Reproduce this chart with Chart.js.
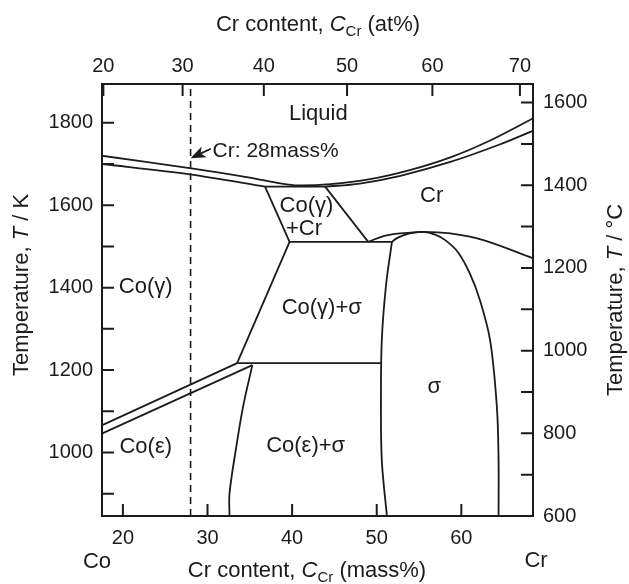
<!DOCTYPE html>
<html>
<head>
<meta charset="utf-8">
<title>Co-Cr phase diagram</title>
<script src="https://cdn.jsdelivr.net/npm/chart.js@4.4.1/dist/chart.umd.min.js"></script>
<style>
  html, body { margin: 0; padding: 0; background: #fff; }
</style>
</head>
<body>
<canvas id="phase-chart" width="629" height="584"></canvas>
<script>
// tick values
const massTicks = [20, 30, 40, 50, 60];
const atomTicks = [20, 30, 40, 50, 60, 70];
const kelvinTicks = [900, 1000, 1100, 1200, 1300, 1400, 1500, 1600, 1700, 1800];
const celsiusTicks = [600, 700, 800, 900, 1000, 1100, 1200, 1300, 1400, 1500, 1600];

// phase boundaries, [Cr mass%, T in K]
const liquidus = [[17.5, 1720], [27.9, 1690], [35.0, 1667], [38.6, 1653], [40.7, 1648], [44.5, 1651],
  [49.2, 1663], [53.9, 1685], [58.7, 1716], [63.4, 1757], [68.5, 1811]];
const solidusGamma = [[17.5, 1700], [27.9, 1675], [36.8, 1645]];
const eutecticLine = [[36.8, 1645], [43.9, 1645]];
const solidusCr = [[43.9, 1645], [48.0, 1652.5], [52.8, 1671.4], [58.7, 1704.9], [64.6, 1747.8], [68.5, 1781]];
const gammaCrLeft = [[36.8, 1645], [39.7, 1511]];
const gammaCrRight = [[43.9, 1645], [49.0, 1511]];
const sigmaFormLine = [[39.7, 1511], [51.8, 1511]];
const solvusCr = [[49.0, 1511], [50.8, 1525], [52.8, 1531.6], [55.5, 1535.4], [58.7, 1531.6], [62.6, 1515.3], [68.5, 1471]];
const sigmaRight = [[51.8, 1511], [52.5, 1521.4], [53.9, 1531.8], [55.5, 1535.4], [56.9, 1528.6], [58.1, 1515.3],
  [59.6, 1486], [61.0, 1434.5], [62.2, 1369.6], [63.4, 1272.5], [64.2, 1110.7], [64.4, 981], [64.4, 846]];
const sigmaLeft = [[51.8, 1511], [51.1, 1406], [50.6, 1272.5], [50.5, 1127], [50.6, 981], [51.2, 846]];
const gammaSigmaLeft = [[39.7, 1511], [33.5, 1216.7]];
const eutectoidLine = [[33.5, 1216.7], [50.55, 1216.7]];
const gammaSolvus = [[17.5, 1066], [33.5, 1216.7]];
const epsilonSolvus = [[17.5, 1046], [35.3, 1212]];
const epsilonSigmaLeft = [[35.3, 1212], [34.2, 1110.7], [33.4, 1013.6], [32.6, 900.5], [32.6, 846]];

// alloy composition marked by the dashed line
const alloyMass = 28;

// phase field names, [text, Cr mass%, T in K]
const fieldLabels = [
  ['Liquid', 43.1, 1821],
  ['Cr', 56.5, 1622],
  ['Co(\u03b3)', 41.7, 1598],
  ['+Cr', 41.4, 1542],
  ['Co(\u03b3)', 22.7, 1401],
  ['Co(\u03b3)+\u03c3', 43.5, 1350],
  ['\u03c3', 56.8, 1158],
  ['Co(\u03b5)', 22.7, 1013],
  ['Co(\u03b5)+\u03c3', 41.6, 1015]
];

const FONT = '"Liberation Sans", Arial, Helvetica, sans-serif';
const INK = '#1b1b1b';
const K_MIN = 846, K_MAX = 1894;

// Cr at% -> mass% (Cr 51.996, Co 58.933)
function atomToMass(a) {
  const w = a * 51.996;
  return 100 * w / (w + (100 - a) * 58.933);
}

function pts(list) {
  return list.map(p => ({ x: p[0], y: p[1] }));
}

function boundary(list, tension) {
  return {
    data: pts(list),
    showLine: true,
    borderColor: INK,
    borderWidth: 1.8,
    pointRadius: 0,
    fill: false,
    tension: tension || 0
  };
}

const datasets = [
  boundary(liquidus, 0.35),
  boundary(solidusGamma, 0.3),
  boundary(eutecticLine),
  boundary(solidusCr, 0.35),
  boundary(gammaCrLeft),
  boundary(gammaCrRight),
  boundary(sigmaFormLine),
  boundary(solvusCr, 0.35),
  boundary(sigmaRight, 0.35),
  boundary(sigmaLeft, 0.35),
  boundary(gammaSigmaLeft),
  boundary(eutectoidLine),
  boundary(gammaSolvus),
  boundary(epsilonSolvus),
  boundary(epsilonSigmaLeft, 0.35)
];
const dashed = boundary([[alloyMass, K_MIN], [alloyMass, K_MAX]]);
dashed.borderDash = [7, 5];
dashed.borderWidth = 1.6;
datasets.push(dashed);

// inward tick marks on all four sides
const innerTicks = {
  id: 'innerTicks',
  afterDraw(chart) {
    const { ctx, chartArea: a, scales } = chart;
    const len = 12;
    ctx.save();
    ctx.strokeStyle = INK;
    ctx.lineWidth = 2;
    ctx.beginPath();
    scales.x.ticks.forEach(t => {
      const p = scales.x.getPixelForValue(t.value);
      ctx.moveTo(p, a.bottom); ctx.lineTo(p, a.bottom - len);
    });
    scales.xTop.ticks.forEach(t => {
      const p = scales.xTop.getPixelForValue(t.value);
      ctx.moveTo(p, a.top); ctx.lineTo(p, a.top + len);
    });
    scales.y.ticks.forEach(t => {
      const p = scales.y.getPixelForValue(t.value);
      ctx.moveTo(a.left, p); ctx.lineTo(a.left + len, p);
    });
    scales.yRight.ticks.forEach(t => {
      const p = scales.yRight.getPixelForValue(t.value);
      ctx.moveTo(a.right, p); ctx.lineTo(a.right - len, p);
    });
    ctx.stroke();
    ctx.restore();
  }
};

// draws a run of text pieces (italic / subscript) centred on 0
function richText(ctx, parts, size) {
  const fontFor = p => (p.italic ? 'italic ' : '') + (p.sub ? Math.round(size * 0.68) : size) + 'px ' + FONT;
  let w = 0;
  parts.forEach(p => { ctx.font = fontFor(p); w += ctx.measureText(p.text).width; });
  let x = -w / 2;
  parts.forEach(p => {
    ctx.font = fontFor(p);
    ctx.fillText(p.text, x, p.sub ? size * 0.24 : 0);
    x += ctx.measureText(p.text).width;
  });
}

function title(ctx, parts, x, y, angle) {
  ctx.save();
  ctx.translate(x, y);
  ctx.rotate(angle);
  ctx.textAlign = 'left';
  ctx.textBaseline = 'alphabetic';
  ctx.fillStyle = INK;
  richText(ctx, parts, 22);
  ctx.restore();
}

const annotations = {
  id: 'annotations',
  afterDraw(chart) {
    const { ctx, scales } = chart;
    const sx = scales.x, sy = scales.y;
    ctx.save();
    ctx.fillStyle = INK;
    ctx.textAlign = 'center';
    ctx.textBaseline = 'middle';
    ctx.font = '22px ' + FONT;
    fieldLabels.forEach(l => {
      ctx.fillText(l[0], sx.getPixelForValue(l[1]), sy.getPixelForValue(l[2]));
    });

    // pointer to the alloy line
    const tipX = sx.getPixelForValue(alloyMass), tipY = sy.getPixelForValue(1714);
    const tailX = sx.getPixelForValue(30.4), tailY = sy.getPixelForValue(1737);
    const ang = Math.atan2(tipY - tailY, tipX - tailX);
    const c = Math.cos(ang), s = Math.sin(ang);
    ctx.strokeStyle = INK;
    ctx.lineWidth = 1.8;
    ctx.beginPath();
    ctx.moveTo(tailX, tailY);
    ctx.lineTo(tipX - 9 * c, tipY - 9 * s);
    ctx.stroke();
    ctx.beginPath();
    ctx.moveTo(tipX, tipY);
    ctx.lineTo(tipX - 15 * c + 6 * s, tipY - 15 * s - 6 * c);
    ctx.lineTo(tipX - 11 * c, tipY - 11 * s);
    ctx.lineTo(tipX - 15 * c - 6 * s, tipY - 15 * s + 6 * c);
    ctx.closePath();
    ctx.fill();
    ctx.textAlign = 'left';
    ctx.font = '21px ' + FONT;
    ctx.fillText('Cr: 28mass%', sx.getPixelForValue(30.6), sy.getPixelForValue(1731));

    // element names at the axis ends
    ctx.font = '22px ' + FONT;
    ctx.textBaseline = 'alphabetic';
    ctx.textAlign = 'center';
    ctx.fillText('Co', 97, 568);
    ctx.fillText('Cr', 536, 567);
    ctx.restore();

    title(ctx, [{ text: 'Cr content, ' }, { text: 'C', italic: true }, { text: 'Cr', sub: true }, { text: ' (at%)' }], 318, 31, 0);
    title(ctx, [{ text: 'Cr content, ' }, { text: 'C', italic: true }, { text: 'Cr', sub: true }, { text: ' (mass%)' }], 307, 577, 0);
    title(ctx, [{ text: 'Temperature, ' }, { text: 'T', italic: true }, { text: ' / K' }], 28, 285, -Math.PI / 2);
    title(ctx, [{ text: 'Temperature, ' }, { text: 'T', italic: true }, { text: ' / \u00b0C' }], 622, 300, -Math.PI / 2);
  }
};

function setTicks(values) {
  return scale => { scale.ticks = values.map(v => ({ value: v })); };
}

const tickFont = { family: FONT, size: 20 };
const axisBorder = { display: true, color: INK, width: 2 };
const noGrid = { display: false, drawTicks: false };

new Chart(document.getElementById('phase-chart'), {
  type: 'scatter',
  data: { datasets: datasets },
  options: {
    responsive: false,
    animation: false,
    events: [],
    layout: { padding: 0 },
    plugins: { legend: { display: false }, tooltip: { enabled: false } },
    scales: {
      x: {
        type: 'linear', position: 'bottom', min: 17.53, max: 68.47,
        afterBuildTicks: setTicks(massTicks),
        afterFit: s => { s.height = 68; },
        grid: noGrid, border: axisBorder,
        ticks: { color: INK, font: tickFont, padding: 10, maxRotation: 0, autoSkip: false }
      },
      // at% scale, placed through the at% -> mass% conversion
      xTop: {
        type: 'linear', position: 'top', min: 17.91, max: 68.85,
        afterBuildTicks: setTicks(atomTicks.map(atomToMass)),
        afterFit: s => { s.height = 84; },
        grid: noGrid, border: axisBorder,
        ticks: { color: INK, font: tickFont, padding: 6, maxRotation: 0, autoSkip: false,
          callback: (v, i) => atomTicks[i] }
      },
      y: {
        type: 'linear', position: 'left', min: K_MIN, max: K_MAX,
        afterBuildTicks: setTicks(kelvinTicks),
        afterFit: s => { s.width = 102; },
        grid: noGrid, border: axisBorder,
        ticks: { color: INK, font: tickFont, padding: 9, autoSkip: false,
          callback: v => (v % 200 === 0 ? v : '') }
      },
      yRight: {
        type: 'linear', position: 'right', min: 600, max: 1645,
        afterBuildTicks: setTicks(celsiusTicks),
        afterFit: s => { s.width = 96; },
        grid: noGrid, border: axisBorder,
        ticks: { color: INK, font: tickFont, padding: 10, autoSkip: false,
          callback: v => (v % 200 === 0 ? v : '') }
      }
    }
  },
  plugins: [innerTicks, annotations]
});
</script>
</body>
</html>
